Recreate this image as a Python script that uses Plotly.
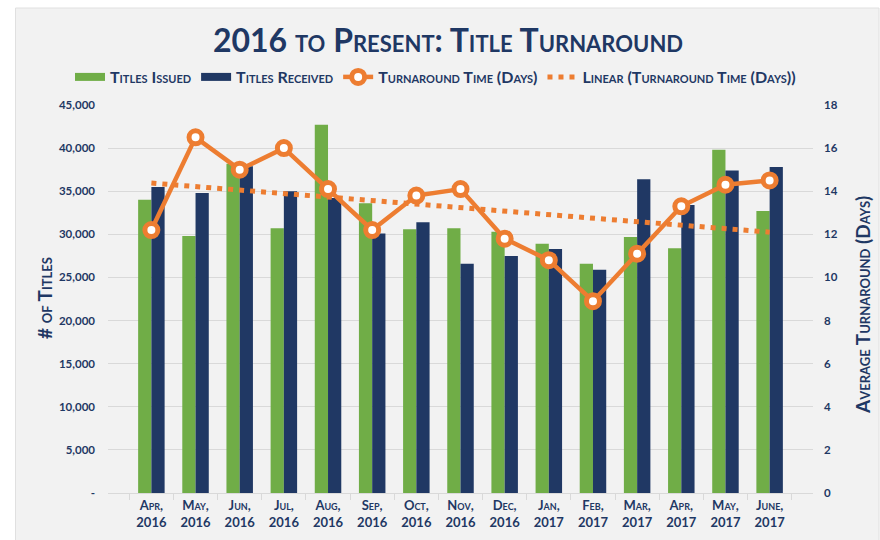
import numpy as np
import plotly.graph_objects as go

# Monthly title volumes and turnaround, April 2016 – June 2017
months = ["Apr,", "May,", "Jun,", "Jul,", "Aug,", "Sep,", "Oct,", "Nov,",
          "Dec,", "Jan,", "Feb,", "Mar,", "Apr,", "May,", "June,"]
years = ["2016"] * 9 + ["2017"] * 6
titles_issued = [34000, 29800, 38200, 30700, 42700, 33600, 30600, 30700,
                 30300, 28900, 26600, 29700, 28400, 39800, 32700]
titles_received = [35500, 34800, 37900, 35000, 34200, 30100, 31400, 26600,
                   27500, 28300, 25900, 36400, 33400, 37400, 37800]
turnaround_days = [12.2, 16.5, 15.0, 16.0, 14.1, 12.2, 13.8, 14.1,
                   11.8, 10.8, 8.9, 11.1, 13.3, 14.3, 14.5]

left_ticks = [0, 5000, 10000, 15000, 20000, 25000, 30000, 35000, 40000, 45000]
left_tick_text = ["-", "5,000", "10,000", "15,000", "20,000", "25,000",
                  "30,000", "35,000", "40,000", "45,000"]
right_ticks = [0, 2, 4, 6, 8, 10, 12, 14, 16, 18]

GREEN = "#70AD47"
NAVY = "#203864"
ORANGE = "#ED7D31"
TEXT = "#1F3864"
GRID = "#D9D9D9"
FONT = "Lato, 'Open Sans', sans-serif"

categories = [f"{m}<br>{y}" for m, y in zip(months, years)]

# Linear trendline of the turnaround series (least squares)
idx = np.arange(len(turnaround_days))
slope, intercept = np.polyfit(idx, turnaround_days, 1)
trend = intercept + slope * idx

fig = go.Figure()

fig.add_trace(go.Bar(x=categories, y=titles_issued, name="Titles Issued",
                     marker=dict(color=GREEN, line=dict(width=0)),
                     showlegend=False, yaxis="y"))
fig.add_trace(go.Bar(x=categories, y=titles_received, name="Titles Received",
                     marker=dict(color=NAVY, line=dict(width=0)),
                     showlegend=False, yaxis="y"))

# Legend swatches drawn as wide bands
fig.add_trace(go.Scatter(x=[None], y=[None], mode="lines", name="Titles Issued",
                         line=dict(color=GREEN, width=8)))
fig.add_trace(go.Scatter(x=[None], y=[None], mode="lines", name="Titles Received",
                         line=dict(color=NAVY, width=8)))

fig.add_trace(go.Scatter(x=categories, y=trend, mode="lines",
                         name="Linear (Turnaround Time (Days))",
                         line=dict(color=ORANGE, width=5, dash="5px,6px"),
                         yaxis="y2", showlegend=False))
fig.add_trace(go.Scatter(x=categories, y=turnaround_days, mode="lines+markers",
                         name="Turnaround Time (Days)",
                         line=dict(color=ORANGE, width=4.5),
                         marker=dict(symbol="circle", size=13, color="white",
                                     line=dict(color=ORANGE, width=5)),
                         yaxis="y2"))
fig.add_trace(go.Scatter(x=[None], y=[None], mode="lines",
                         name="Linear (Turnaround Time (Days))",
                         line=dict(color=ORANGE, width=5, dash="5px,6px"),
                         yaxis="y2"))

L, R, T, B = 108, 67, 105, 47
W, H = 880, 540
pw, ph = W - L - R, H - T - B

def px_x(x):
    return (x - L) / pw

def px_y(y):
    return (H - B - y) / ph

# Light grey chart panel
fig.add_shape(type="rect", xref="paper", yref="paper", layer="below",
              x0=px_x(15.5), x1=px_x(879), y0=px_y(541), y1=px_y(8),
              fillcolor="#F2F2F2", line=dict(color="#E0E0E0", width=1))

tick_font = dict(family=FONT, size=11.5, color=TEXT, weight="bold")

fig.update_layout(
    width=W, height=H,
    margin=dict(l=L, r=R, t=T, b=B, autoexpand=False),
    paper_bgcolor="white",
    plot_bgcolor="rgba(0,0,0,0)",
    barmode="group", bargap=0.4, bargroupgap=0,
    title=dict(text="2016 to Present: Title Turnaround",
               x=448 / W, xanchor="center", y=1 - 41 / H, yanchor="middle",
               font=dict(family=FONT, size=32, color=TEXT, weight="bold",
                         variant="small-caps")),
    legend=dict(orientation="h", x=px_x(70), xanchor="left",
                y=px_y(77), yanchor="middle",
                bgcolor="rgba(0,0,0,0)",
                font=dict(family=FONT, size=16, color=TEXT, weight="bold",
                          variant="small-caps"),
                traceorder="normal", itemwidth=30),
    xaxis=dict(type="category", showgrid=False, showline=True,
               linecolor=GRID, linewidth=1, ticks="outside",
               tickson="boundaries", ticklen=6, tickcolor=GRID,
               tickfont=dict(family=FONT, size=13, color=TEXT, weight="bold",
                             variant="small-caps"),
               automargin=False),
    yaxis=dict(range=[0, 45000], tickvals=left_ticks, ticktext=left_tick_text,
               showgrid=True, gridcolor=GRID, gridwidth=1, zeroline=False,
               showline=False, ticks="", ticklabelstandoff=12,
               tickfont=tick_font, automargin=False),
    yaxis2=dict(range=[0, 18], tickvals=right_ticks, overlaying="y",
                side="right", showgrid=False, zeroline=False, showline=False,
                ticks="", ticklabelstandoff=10, tickfont=tick_font,
                automargin=False),
    hovermode=False,
)

fig.add_annotation(text="# of Titles", xref="paper", yref="paper",
                   x=px_x(44), y=px_y(298), xanchor="center", yanchor="middle",
                   textangle=-90, showarrow=False,
                   font=dict(family=FONT, size=19, color=TEXT, weight="bold",
                             variant="small-caps"))
fig.add_annotation(text="Average Turnaround (Days)", xref="paper", yref="paper",
                   x=px_x(862), y=px_y(305), xanchor="center", yanchor="middle",
                   textangle=-90, showarrow=False,
                   font=dict(family=FONT, size=19, color=TEXT, weight="bold",
                             variant="small-caps"))

fig.write_html("out.html")
